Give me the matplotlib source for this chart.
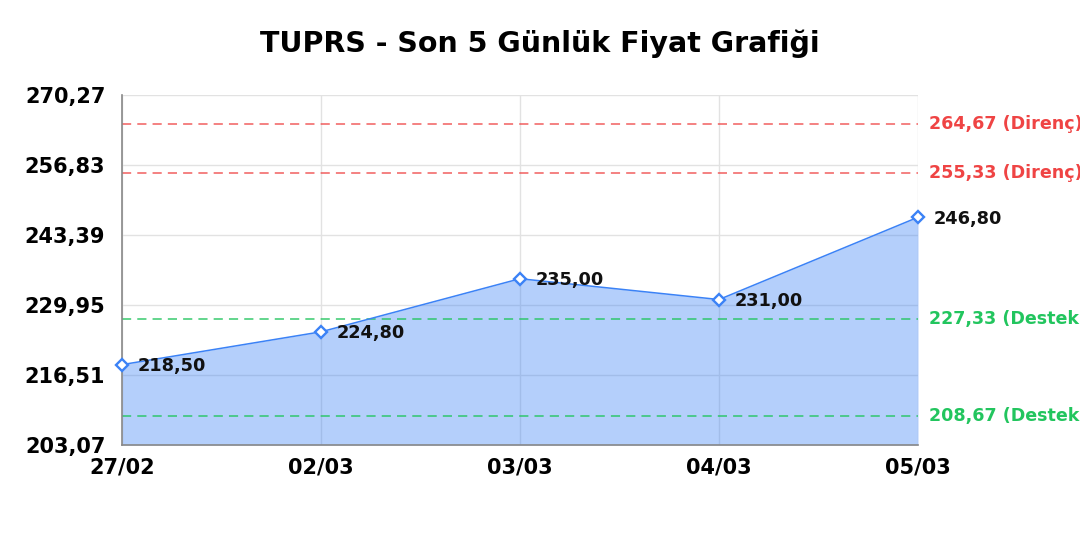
import matplotlib
matplotlib.use("Agg")
import matplotlib.pyplot as plt
import numpy as np

dates = ["27/02", "02/03", "03/03", "04/03", "05/03"]
prices = [218.50, 224.80, 235.00, 231.00, 246.80]
resistance = [264.67, 255.33]
support = [227.33, 208.67]
ymin, ymax = 203.07, 270.27
title = "TUPRS - Son 5 Günlük Fiyat Grafiği"

def tr(v):
    return f"{v:.2f}".replace(".", ",")

plt.rcParams['font.family'] = ['DejaVu Sans']
fig = plt.figure(figsize=(10.8, 5.4), dpi=100)
ax = fig.add_axes([122/1080, 1-445/540, (918-122)/1080, 350/540])

x = np.arange(len(dates))
blue = "#3b82f6"
ax.fill_between(x, prices, ymin, color=blue, alpha=0.38, linewidth=0, zorder=2)
ax.plot(x, prices, color=blue, linewidth=1.1, zorder=3)
ax.plot(x, prices, linestyle="none", marker="D", markersize=6.5, markerfacecolor="white",
        markeredgecolor=blue, markeredgewidth=1.7, zorder=4, clip_on=False)

for xi, p in zip(x, prices):
    ax.annotate(tr(p), (xi, p), xytext=(11, -1), textcoords="offset points",
                ha="left", va="center", fontsize=12.8, fontweight="bold", color="#111111",
                zorder=5, annotation_clip=False)

red = "#ef4444"
green = "#22c55e"
for v in resistance:
    ax.axhline(v, color=red, linestyle=(0, (6, 4)), linewidth=1.1, alpha=0.85, zorder=2.5)
    ax.annotate(f"{tr(v)} (Direnç)", (1.0, v), xycoords=("axes fraction", "data"),
                xytext=(8, 0), textcoords="offset points", ha="left", va="center",
                fontsize=12.6, fontweight="bold", color=red, annotation_clip=False)
for v in support:
    ax.axhline(v, color=green, linestyle=(0, (6, 4)), linewidth=1.1, alpha=0.9, zorder=2.5)
    ax.annotate(f"{tr(v)} (Destek)", (1.0, v), xycoords=("axes fraction", "data"),
                xytext=(8, 0), textcoords="offset points", ha="left", va="center",
                fontsize=12.6, fontweight="bold", color=green, annotation_clip=False)

ax.set_xlim(0, len(dates)-1)
ax.set_ylim(ymin, ymax)
yt = np.linspace(ymin, ymax, 6)
ax.set_yticks(yt)
ax.set_yticklabels([tr(v) for v in yt], fontsize=15, fontweight="bold")
ax.set_xticks(x)
ax.set_xticklabels(dates, fontsize=15, fontweight="bold")
ax.tick_params(axis="y", length=0, pad=12)
ax.tick_params(axis="x", length=0, pad=9)
ax.grid(True, color="#e2e2e2", linewidth=1, zorder=1)
ax.set_axisbelow(True)
for s in ["top", "right"]:
    ax.spines[s].set_visible(False)
for s in ["left", "bottom"]:
    ax.spines[s].set_color("#888888")
    ax.spines[s].set_linewidth(1.2)

fig.text(540/1080, 1-44/540, title, ha="center", va="center", fontsize=20.5, fontweight="bold")
fig.savefig("out.png", dpi=100)
